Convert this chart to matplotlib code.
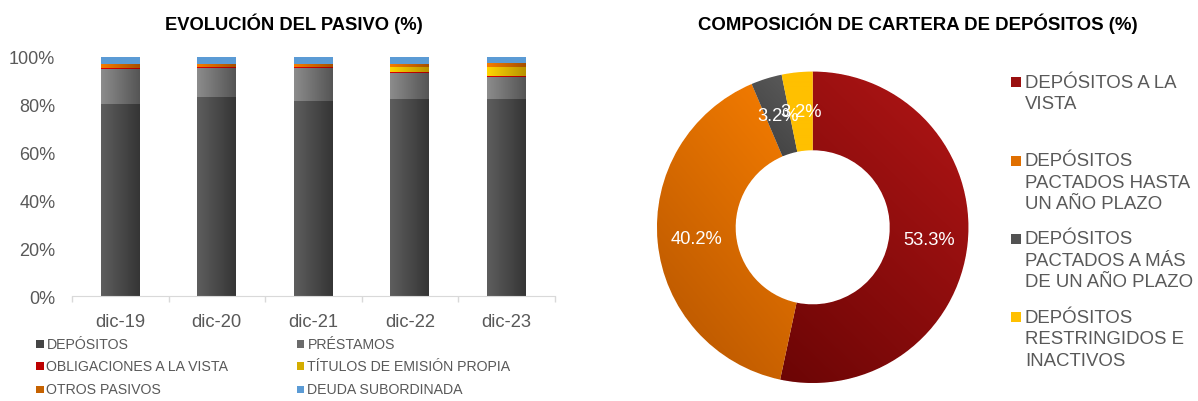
import numpy as np
import matplotlib

matplotlib.use("Agg")
import matplotlib.pyplot as plt
from matplotlib.colors import to_rgb
from matplotlib.patches import Rectangle

plt.rcParams["font.family"] = ["Liberation Sans", "DejaVu Sans"]

# --- data: evolución del pasivo (% of total) ---
years = ["dic-19", "dic-20", "dic-21", "dic-22", "dic-23"]
depositos = [80.3, 83.3, 81.6, 82.4, 82.4]
prestamos = [14.7, 12.0, 13.7, 11.0, 9.3]
obligaciones_vista = [0.4, 0.4, 0.4, 0.4, 0.4]
titulos_propios = [0.0, 0.0, 0.0, 2.1, 3.8]
otros_pasivos = [1.7, 1.4, 1.5, 1.2, 1.5]
deuda_subordinada = [2.9, 2.9, 2.8, 2.9, 2.6]

pasivo_labels = [
    "DEPÓSITOS",
    "PRÉSTAMOS",
    "OBLIGACIONES A LA VISTA",
    "TÍTULOS DE EMISIÓN PROPIA",
    "OTROS PASIVOS",
    "DEUDA SUBORDINADA",
]

# --- data: composición de cartera de depósitos ---
cartera_labels = [
    "DEPÓSITOS A LA\nVISTA",
    "DEPÓSITOS\nPACTADOS HASTA\nUN AÑO PLAZO",
    "DEPÓSITOS\nPACTADOS A MÁS\nDE UN AÑO PLAZO",
    "DEPÓSITOS\nRESTRINGIDOS E\nINACTIVOS",
]
cartera_pct = [53.3, 40.2, 3.2, 3.2]

TEXT_GREY = "#595959"
W, H = 1198, 402

# (light, dark) gradient pairs
bar_colors = [
    ("#5e5e5e", "#353535"),
    ("#8c8c8c", "#555555"),
    ("#dc0000", "#a80000"),
    ("#ffd600", "#b89200"),
    ("#f57c00", "#a65000"),
    ("#5b9bd5", "#5b9bd5"),
]
pie_colors = [
    ("#b31616", "#6c0505"),
    ("#f77e00", "#b45400"),
    ("#5c5c5c", "#3e3e3e"),
    ("#ffc000", "#ffc000"),
]


def px(x, y):
    # pixel position (from top-left) -> figure fraction
    return x / W, 1 - y / H


def mix(light, dark, t=0.5):
    return tuple((1 - t) * np.array(to_rgb(light)) + t * np.array(to_rgb(dark)))


def gradient_fill(ax, patch, light, dark, angle_deg, extent):
    n = 64
    u, v = np.meshgrid(np.linspace(0, 1, n), np.linspace(0, 1, n))
    rad = np.deg2rad(angle_deg)
    t = u * np.cos(rad) + v * np.sin(rad)
    t = (t - t.min()) / max(t.max() - t.min(), 1e-9)
    c0, c1 = np.array(to_rgb(light)), np.array(to_rgb(dark))
    rgb = (1 - t)[..., None] * c0 + t[..., None] * c1
    im = ax.imshow(
        rgb,
        extent=extent,
        origin="lower",
        aspect="auto",
        interpolation="bilinear",
        zorder=patch.get_zorder() + 0.01,
    )
    im.set_clip_path(patch)


fig = plt.figure(figsize=(W / 100, H / 100), dpi=100)

# ---------------- stacked bars ----------------
ax = fig.add_axes([72 / W, (H - 297) / H, 482.5 / W, (297 - 58) / H])
x = np.arange(len(years))
series = [
    depositos,
    prestamos,
    obligaciones_vista,
    titulos_propios,
    otros_pasivos,
    deuda_subordinada,
]
bottom = np.zeros(len(years))
for values, (light, dark) in zip(series, bar_colors):
    values = np.asarray(values, dtype=float)
    bars = ax.bar(x, values, width=0.4, bottom=bottom, color=light, linewidth=0)
    for rect in bars:
        if rect.get_height() <= 0:
            continue
        x0, y0 = rect.get_x(), rect.get_y()
        gradient_fill(
            ax, rect, light, dark, 0,
            (x0, x0 + rect.get_width(), y0, y0 + rect.get_height()),
        )
    bottom += values

ax.set_xlim(-0.5, len(years) - 0.5)
ax.set_ylim(0, 100)
ax.set_yticks(np.arange(0, 101, 20))
ax.set_yticklabels([f"{v}%" for v in range(0, 101, 20)])
ax.set_xticks(x)
ax.set_xticklabels(years)
ax.set_xticks(np.arange(-0.5, len(years), 1), minor=True)
ax.tick_params(axis="y", length=0, pad=12, labelsize=13, labelcolor=TEXT_GREY)
ax.tick_params(axis="x", which="major", length=0, pad=12.5, labelsize=13.2,
               labelcolor=TEXT_GREY)
ax.tick_params(axis="x", which="minor", length=4, color="#d9d9d9", width=1)
for side in ("top", "right", "left"):
    ax.spines[side].set_visible(False)
ax.spines["bottom"].set_color("#d9d9d9")

fig.text(*px(294, 24), "EVOLUCIÓN DEL PASIVO (%)", ha="center", va="center",
         fontsize=13.2, fontweight="bold", color="black")

# legend for bars, two columns
legend_pos = [(36, 345), (297, 345), (36, 367), (297, 367), (36, 390.5), (297, 390.5)]
for (mx, my), label, (light, dark) in zip(legend_pos, pasivo_labels, bar_colors):
    fx, fy = px(mx, my + 3.8)
    fig.patches.append(Rectangle((fx, fy), 7.5 / W, 7.5 / H, transform=fig.transFigure,
                                 facecolor=mix(light, dark, 0.6), edgecolor="none"))
    fig.text(*px(mx + 10.5, my), label, ha="left", va="center", fontsize=10.2,
             color=TEXT_GREY)

# ---------------- donut ----------------
R = 160 / 155.7
pax = fig.add_axes([(812.7 - 160) / W, (H - 228.3 - 160) / H, 320 / W, 320 / H])
wedges, _ = pax.pie(
    cartera_pct,
    startangle=90,
    counterclock=False,
    radius=1,
    colors=[c[0] for c in pie_colors],
    wedgeprops=dict(width=0.505, edgecolor="white", linewidth=0.6),
)
for w, (light, dark) in zip(wedges, pie_colors):
    b = w.get_path().get_extents()
    gradient_fill(pax, w, light, dark, 240, (b.x0, b.x1, b.y0, b.y1))

for w, val in zip(wedges, cartera_pct):
    mid = np.deg2rad((w.theta1 + w.theta2) / 2)
    pax.text(0.75 * np.cos(mid), 0.75 * np.sin(mid), f"{val:.1f}%",
             ha="center", va="center", color="white", fontsize=13.2, zorder=5)

pax.set_xlim(-R, R)
pax.set_ylim(-R, R)
pax.set_aspect("equal")
pax.axis("off")

fig.text(*px(917.5, 24), "COMPOSICIÓN DE CARTERA DE DEPÓSITOS (%)", ha="center",
         va="center", fontsize=13.4, fontweight="bold", color="black")

# legend for donut
entry_top = [83.3, 161.7, 240.0, 318.3]
line_step = 21.5
for y0, label, (light, dark) in zip(entry_top, cartera_labels, pie_colors):
    fx, fy = px(1010.7, y0 + 5)
    fig.patches.append(Rectangle((fx, fy), 10 / W, 10 / H, transform=fig.transFigure,
                                 facecolor=mix(light, dark, 0.35), edgecolor="none"))
    for i, line in enumerate(label.split("\n")):
        fig.text(*px(1025, y0 + i * line_step), line, ha="left", va="center",
                 fontsize=13.4, color=TEXT_GREY)

fig.savefig("out.png", dpi=100)
